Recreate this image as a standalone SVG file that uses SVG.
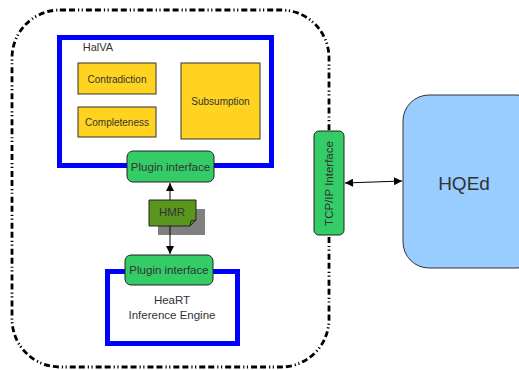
<svg xmlns="http://www.w3.org/2000/svg" width="519" height="370" viewBox="0 0 519 370">
<defs>
<marker id="ah" viewBox="0 0 10 10" refX="10" refY="5" markerWidth="10" markerHeight="8" markerUnits="userSpaceOnUse" orient="auto-start-reverse">
<path d="M0,0 L10,5 L0,10 z" fill="#000"/>
</marker>
<style>
text{font-family:"Liberation Sans",Arial,sans-serif;fill:#333;text-anchor:middle;dominant-baseline:central}
.gold{fill:#ffd320;stroke:#333;stroke-width:1}
.green{fill:#33cc66;stroke:#222;stroke-width:1}
.blue{fill:#fff;stroke:#0000ff;stroke-width:5}
.conn{stroke:#000;stroke-width:1;fill:none}
</style>
</defs>
<rect width="519" height="370" fill="#fff"/>
<g id="boundary">
<rect x="12" y="10" width="317" height="357" rx="48" ry="48" fill="none" stroke="#000" stroke-width="2.8" stroke-dasharray="6,3,6,3,1.2,2.5,1.2,3"/>
</g>
<g id="halva">
<rect class="blue" x="59.5" y="37.5" width="212" height="128"/>
<text x="98" y="47" font-size="11">HalVA</text>
</g>
<g id="contradiction">
<rect class="gold" x="78" y="63" width="78" height="31"/>
<text x="117" y="79" font-size="10">Contradiction</text>
</g>
<g id="completeness">
<rect class="gold" x="78" y="107" width="78" height="30"/>
<text x="117" y="122" font-size="10">Completeness</text>
</g>
<g id="subsumption">
<rect class="gold" x="181" y="63" width="79" height="76"/>
<text x="220.5" y="101" font-size="10">Subsumption</text>
</g>
<g id="plugin-top">
<rect class="green" x="127" y="151" width="87" height="31" rx="6" ry="6"/>
<text x="170.5" y="166.5" font-size="11.5">Plugin interface</text>
</g>
<g id="hmr">
<path d="M158,209 H205 V235 H158 z" fill="#808080"/>
<path d="M149,200 H196 V220 L190,226 H149 z" fill="#5a961e" stroke="#222" stroke-width="1"/>
<path d="M190,226 L191,221 L196,220" fill="none" stroke="#222" stroke-width="1"/>
<text x="172" y="212" font-size="11.5">HMR</text>
</g>
<g id="heart">
<rect class="blue" x="107.5" y="271.5" width="130" height="72"/>
<text x="172" y="300" font-size="11.5">HeaRT</text>
<text x="172" y="315" font-size="11.5">Inference Engine</text>
</g>
<g id="plugin-bottom">
<rect class="green" x="125" y="255" width="88" height="30" rx="6" ry="6"/>
<text x="169" y="270" font-size="11.5">Plugin interface</text>
</g>
<g id="tcpip">
<rect class="green" x="314" y="131" width="30" height="104" rx="5" ry="5"/>
<text x="0" y="0" font-size="11.5" transform="translate(329,183.5) rotate(-90)">TCP/IP Interface</text>
</g>
<g id="hqed">
<rect x="403" y="95" width="140" height="173" rx="26" ry="26" fill="#99ccff" stroke="#333" stroke-width="1"/>
<text x="464" y="183" font-size="19">HQEd</text>
</g>
<g id="connectors">
<line class="conn" x1="170" y1="200" x2="170" y2="183" marker-end="url(#ah)"/>
<line class="conn" x1="170" y1="226" x2="170" y2="254" marker-end="url(#ah)"/>
<line class="conn" x1="345" y1="183" x2="402" y2="181" marker-start="url(#ah)" marker-end="url(#ah)"/>
</g>
</svg>
